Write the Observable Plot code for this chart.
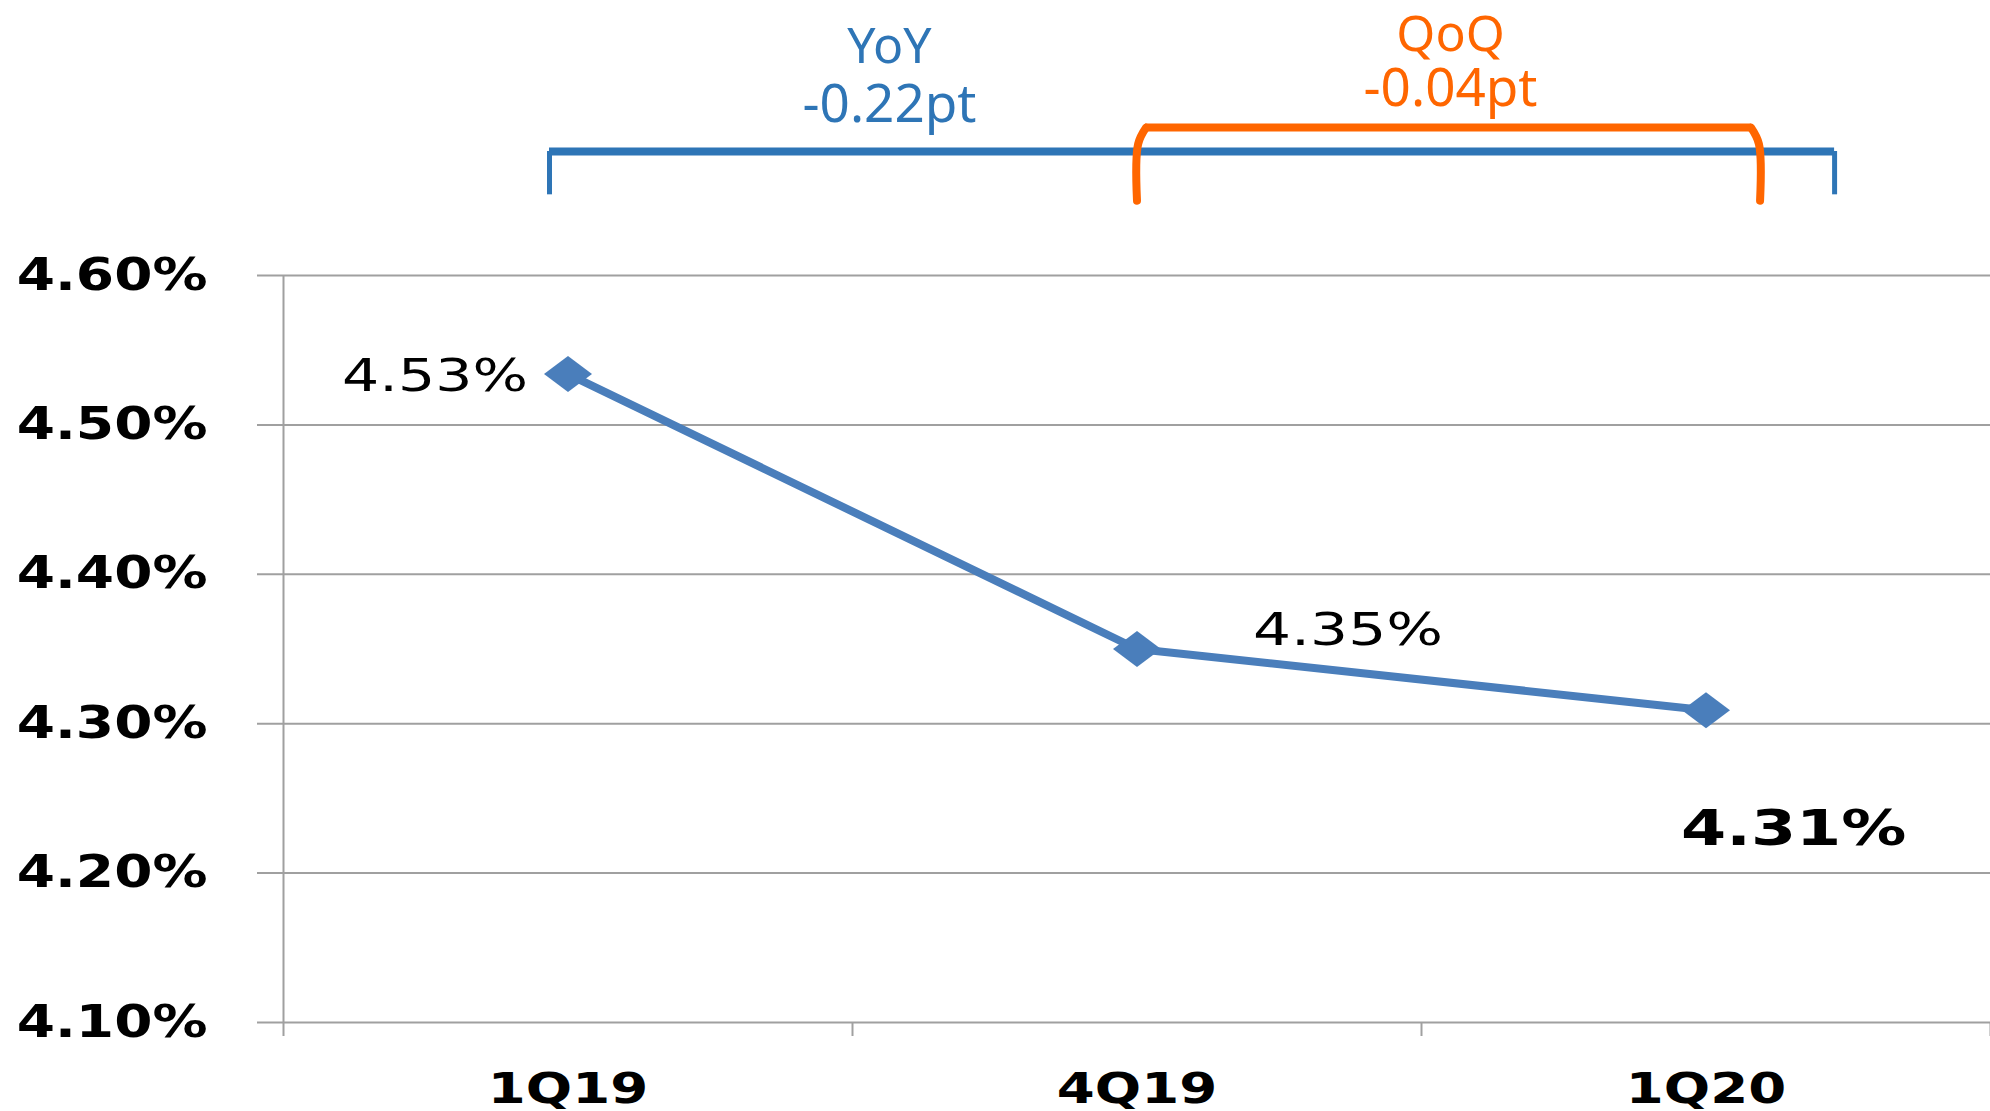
<!DOCTYPE html>
<html><head><meta charset="utf-8">
<script src="https://cdn.jsdelivr.net/npm/d3@7"></script>
<script src="https://cdn.jsdelivr.net/npm/@observablehq/plot@0.6"></script>
<style>html,body{margin:0;padding:0;background:#fff;overflow:hidden}</style>
</head><body><div id="chart"></div>
<script>
// ---- data ----
const quarters = ["1Q19", "4Q19", "1Q20"];
const ratios = [4.534, 4.350, 4.309];
const ratioLabels = ["4.53%", "4.35%", "4.31%"];
const yTicks = [4.1, 4.2, 4.3, 4.4, 4.5, 4.6];
const yTickLabels = ["4.10%", "4.20%", "4.30%", "4.40%", "4.50%", "4.60%"];
const changeNames = ["YoY", "QoQ"];
const changeValues = ["-0.22pt", "-0.04pt"];

// ---- derived tables ----
const points = quarters.map((q, i) => ({q, x: i + 0.5, v: ratios[i], label: ratioLabels[i]}));
const bounds = d3.range(quarters.length + 1);

// annotation geometry (in data units of the chart scales)
const yoy = {x0: 0.4675, x1: 2.726, top: 4.683, bottom: 4.654, cx: 1.065};
const qoq = {x0: 1.5, x1: 2.595, top: 4.699, bottom: 4.650, cx: 2.051};
const qoqLegs = [
  {z: "L", x: qoq.x0, y: qoq.bottom}, {z: "L", x: qoq.x0 + 0.002, y: qoq.top - 0.011}, {z: "L", x: qoq.x0 + 0.016, y: qoq.top},
  {z: "R", x: qoq.x1, y: qoq.bottom}, {z: "R", x: qoq.x1 - 0.002, y: qoq.top - 0.011}, {z: "R", x: qoq.x1 - 0.016, y: qoq.top}
];
const annotText = [
  {x: yoy.cx, y: 4.753, t: changeNames[0], c: "#2e75b6", s: 50},
  {x: yoy.cx, y: 4.714, t: changeValues[0], c: "#2e75b6", s: 53},
  {x: qoq.cx, y: 4.761, t: changeNames[1], c: "#ff6600", s: 50},
  {x: qoq.cx, y: 4.7245, t: changeValues[1], c: "#ff6600", s: 53}
];

const BLUE = "#4a7ebb";
const GRAY = "#a0a0a0";
const ORANGE = "#ff6600";
const wideDiamond = {
  draw(ctx, size) {
    const r = Math.sqrt(size / Math.PI);
    ctx.moveTo(0, -r * 0.75);
    ctx.lineTo(r, 0);
    ctx.lineTo(0, r * 0.75);
    ctx.lineTo(-r, 0);
    ctx.closePath();
  }
};

const svg = Plot.plot({
  width: 1990,
  height: 1111,
  marginLeft: 283,
  marginRight: 0,
  marginTop: 275,
  marginBottom: 89,
  style: {background: "white", fontFamily: "DejaVu Sans", overflow: "visible"},
  x: {domain: [0, quarters.length], axis: null},
  y: {domain: [4.1, 4.6], axis: null},
  marks: [
    Plot.ruleY(yTicks, {stroke: GRAY, strokeWidth: 2, insetLeft: -26}),
    Plot.ruleX([0], {stroke: GRAY, strokeWidth: 2, insetBottom: -14}),
    Plot.ruleX(bounds.slice(1), {y1: 4.1, y2: 4.1, insetBottom: -14, stroke: GRAY, strokeWidth: 2}),
    Plot.text(yTicks, {x: 0, y: d => d, text: (d, i) => yTickLabels[i],
      textAnchor: "end", dx: -76, fontSize: 44, fontWeight: "bold", fill: "#000"}),
    Plot.text(points, {x: "x", y: () => 4.1, text: "q", dy: 67,
      fontSize: 42, fontWeight: "bold", fill: "#000"}),
    Plot.line(points, {x: "x", y: "v", stroke: BLUE, strokeWidth: 8}),
    Plot.dot(points, {x: "x", y: "v", symbol: wideDiamond, r: 24, fill: BLUE, stroke: "none"}),
    Plot.text(points.slice(0, 1), {x: "x", y: "v", text: "label",
      textAnchor: "end", dx: -40, dy: 3, fontSize: 44, fill: "#000"}),
    Plot.text(points.slice(1, 2), {x: "x", y: "v", text: "label",
      textAnchor: "start", dx: 116, dy: -18, fontSize: 45, fill: "#000"}),
    Plot.text(points.slice(2, 3), {x: "x", y: "v", text: "label",
      textAnchor: "start", dx: -25, dy: 119, fontSize: 50, fontWeight: "bold", fill: "#000"}),
    // YoY bracket
    Plot.ruleY([yoy.top], {x1: yoy.x0, x2: yoy.x1, stroke: "#2e75b6", strokeWidth: 8}),
    Plot.ruleX([yoy.x0, yoy.x1], {y1: yoy.top, y2: yoy.bottom, stroke: "#2e75b6", strokeWidth: 5}),
    // QoQ bracket
    Plot.ruleY([qoq.top], {x1: qoq.x0 + 0.015, x2: qoq.x1 - 0.015, stroke: ORANGE, strokeWidth: 8}),
    Plot.line(qoqLegs, {x: "x", y: "y", z: "z", stroke: ORANGE, strokeWidth: 8, curve: "catmull-rom"}),
    Plot.text(annotText, {x: "x", y: "y", text: "t", fill: "c", fontSize: "s",
      fontFamily: "Noto Sans"})
  ]
});

// Horizontal stretch to mimic the wide chart lettering of the original
const stretchOf = new Map([
  ...yTickLabels.map(s => [s, 1.25]),
  ...quarters.map(s => [s, 1.3]),
  [ratioLabels[0], 1.33], [ratioLabels[1], 1.33], [ratioLabels[2], 1.3]
]);
svg.querySelectorAll("text").forEach(t => {
  const sx = stretchOf.get(t.textContent.trim());
  if (!sx) return;
  const tr = t.getAttribute("transform");
  if (tr) t.setAttribute("transform", tr + ` scale(${sx},1)`);
  else {
    const x = +t.getAttribute("x") || 0, y = +t.getAttribute("y") || 0;
    t.removeAttribute("x"); t.removeAttribute("y");
    t.setAttribute("transform", `translate(${x},${y}) scale(${sx},1)`);
  }
});
document.getElementById("chart").appendChild(svg);
</script>
</body></html>
